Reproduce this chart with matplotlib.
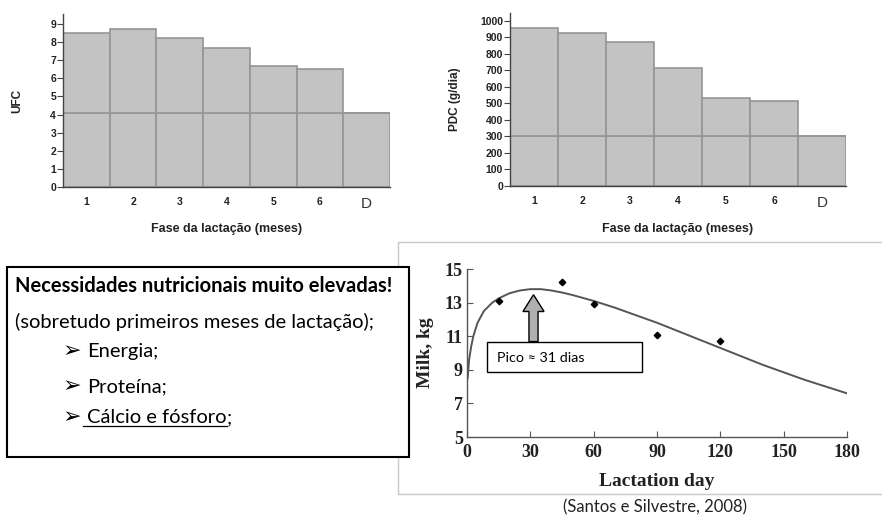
import matplotlib
matplotlib.use("Agg")
import matplotlib.pyplot as plt
from matplotlib.patches import Rectangle, FancyArrow
from matplotlib.lines import Line2D

W, H = 882, 525

# --- data ---
fases = ['1', '2', '3', '4', '5', '6', 'D']
ufc = [8.5, 8.7, 8.2, 7.7, 6.7, 6.5, 4.1]
ufc_manut = 4.1
pdc = [960, 925, 875, 715, 535, 515, 300]
pdc_manut = 300

dias_obs = [15, 45, 60, 90, 120]
leite_obs = [13.1, 14.2, 12.9, 11.1, 10.7]

dias_curva = [0.3, 1, 2, 3, 5, 8, 12, 15, 20, 25, 30, 35, 40, 45, 50, 60, 70, 80,
              90, 100, 110, 120, 130, 140, 150, 160, 170, 180]
leite_curva = [8.5, 9.6, 10.4, 11.0, 11.8, 12.5, 13.0, 13.25, 13.55, 13.72, 13.8,
               13.8, 13.72, 13.6, 13.45, 13.1, 12.7, 12.25, 11.8, 11.3, 10.8, 10.3,
               9.8, 9.3, 8.85, 8.4, 8.0, 7.6]
dia_pico = 31

SANS = 'Liberation Sans'
SERIF = 'Liberation Serif'
BODY = ['Lato', 'DejaVu Sans']
FS = 14.5

BAR = '#c3c3c3'
EDGE = '#959595'


def fx(px):
    return px / W


def fy(py):
    return 1 - py / H


def box(x0, y0, x1, y1):
    # pixel box -> figure rect
    return [fx(x0), fy(y1), fx(x1) - fx(x0), fy(y0) - fy(y1)]


fig = plt.figure(figsize=(W / 100, H / 100), dpi=100)


def bar_chart(rect, vals, manut, ylim, yticks, ylabel, ylabel_x):
    ax = fig.add_axes(rect)
    pos = range(len(vals))
    ax.bar(pos, [manut] * len(vals), width=1, color=BAR, edgecolor=EDGE, linewidth=1.2)
    ax.bar(pos, [v - manut for v in vals], bottom=manut, width=1, color=BAR,
           edgecolor=EDGE, linewidth=1.2)
    ax.set_xlim(-0.5, len(vals) - 0.5)
    ax.set_ylim(*ylim)
    ax.set_yticks(yticks)
    for s in ['top', 'right']:
        ax.spines[s].set_visible(False)
    for s in ['left', 'bottom']:
        ax.spines[s].set_color('#444444')
        ax.spines[s].set_linewidth(1)
    ax.tick_params(axis='y', length=4, width=0.8, color='#444444', pad=1,
                   labelsize=7.5)
    ax.tick_params(axis='x', length=0, pad=7)
    ax.set_xticks(list(pos))
    ax.set_xticklabels(fases)
    for lab in ax.get_yticklabels():
        lab.set_fontfamily(SANS)
        lab.set_fontweight('bold')
        lab.set_color('#222222')
    for lab in ax.get_xticklabels():
        lab.set_fontfamily(SANS)
        if lab.get_text() == 'D':
            lab.set_fontsize(11)
            lab.set_color('#333333')
        else:
            lab.set_fontsize(7.5)
            lab.set_fontweight('bold')
            lab.set_color('#222222')
    cx = (rect[0] + rect[0] + rect[2]) / 2
    fig.text(cx, fy(229), 'Fase da lactação (meses)', family=SANS, weight='bold',
             size=9, ha='center', va='center', color='#222222')
    fig.text(fx(ylabel_x), rect[1] + rect[3] / 2, ylabel, family=SANS, weight='bold',
             size=8.5, rotation=90, ha='center', va='center', color='#222222')
    return ax


bar_chart(box(63, 14, 390, 187), ufc, ufc_manut, (0, 9.55), range(0, 10), 'UFC', 17)
bar_chart(box(510, 13, 846, 186), pdc, pdc_manut, (0, 1048), range(0, 1001, 100),
          'PDC (g/dia)', 455)

# frame around the lactation curve picture
fig.add_artist(Rectangle((fx(398), fy(494)), fx(W + 5) - fx(398), fy(242) - fy(494),
                         transform=fig.transFigure, facecolor='none',
                         edgecolor='#c8c8c8', linewidth=1, zorder=1))

# lactation curve
ax = fig.add_axes(box(467, 269, 847, 437))
ax.plot(dias_curva, leite_curva, color='#555555', linewidth=1.4)
ax.plot(dias_obs, leite_obs, linestyle='none', marker='D', markersize=3.3, color='black')
ax.set_xlim(0, 180)
ax.set_ylim(5, 15)
ax.set_xticks(range(0, 181, 30))
ax.set_yticks(range(5, 16, 2))
for s in ['top', 'right']:
    ax.spines[s].set_visible(False)
for s in ['left', 'bottom']:
    ax.spines[s].set_color('#555555')
    ax.spines[s].set_linewidth(1)
ax.tick_params(direction='in', length=4, width=0.8, color='#555555', labelsize=13,
               pad=3)
ax.tick_params(axis='x', pad=5)
for lab in ax.get_xticklabels() + ax.get_yticklabels():
    lab.set_fontfamily(SERIF)
    lab.set_fontweight('bold')
    lab.set_color('#222222')
ax.set_xlabel('Lactation day', family=SERIF, weight='bold', size=14, color='#222222',
              labelpad=9)
ax.set_ylabel('Milk, kg', family=SERIF, weight='bold', size=14, color='#222222',
              labelpad=8)

# peak arrow
ax.add_patch(FancyArrow(dia_pico + 0.5, 10.68, 0, 2.79 - 1.0, width=4.3, head_width=10,
                        head_length=1.0, length_includes_head=False,
                        facecolor='#b0b0b0', edgecolor='black', linewidth=1,
                        zorder=3))

fig.add_artist(Rectangle((fx(487), fy(372)), fx(642) - fx(487), fy(342) - fy(372),
                         transform=fig.transFigure, facecolor='white',
                         edgecolor='black', linewidth=1, zorder=5))
fig.text(fx(497), fy(358), 'Pico ≈ 31 dias', family=BODY, size=10.3, ha='left',
         va='center', zorder=6)

# text box
fig.add_artist(Rectangle((fx(7), fy(457)), fx(409) - fx(7), fy(267) - fy(457),
                         transform=fig.transFigure, facecolor='white',
                         edgecolor='black', linewidth=1.5, zorder=4))
fig.text(fx(15), fy(292), 'Necessidades nutricionais muito elevadas!', family=BODY,
         weight='bold', size=FS, va='baseline', zorder=6)
fig.text(fx(15), fy(328), '(sobretudo primeiros meses de lactação);', family=BODY,
         size=FS, va='baseline', zorder=6)
for yb, item in [(357, 'Energia;'), (392, 'Proteína;')]:
    fig.text(fx(63), fy(yb), '➢', family=['DejaVu Sans'], size=16, va='baseline',
             zorder=6)
    fig.text(fx(87), fy(yb), item, family=BODY, size=FS, va='baseline', zorder=6)
fig.text(fx(63), fy(423), '➢', family=['DejaVu Sans'], size=16, va='baseline', zorder=6)
t_cal = fig.text(fx(87), fy(423), 'Cálcio e fósforo', family=BODY, size=FS,
                 va='baseline', zorder=6)
fig.canvas.draw()
bb = t_cal.get_window_extent()
fig.text(bb.x1 / W, fy(423), ';', family=BODY, size=FS, va='baseline', zorder=6)
fig.add_artist(Line2D([fx(83), bb.x1 / W], [fy(426), fy(426)], color='black',
                      linewidth=0.9, transform=fig.transFigure, zorder=6))

fig.text(fx(563), fy(507), '(Santos e Silvestre, 2008)', family=BODY, size=12,
         ha='left', va='center', color='#222222')

fig.savefig('out.png', dpi=100)
